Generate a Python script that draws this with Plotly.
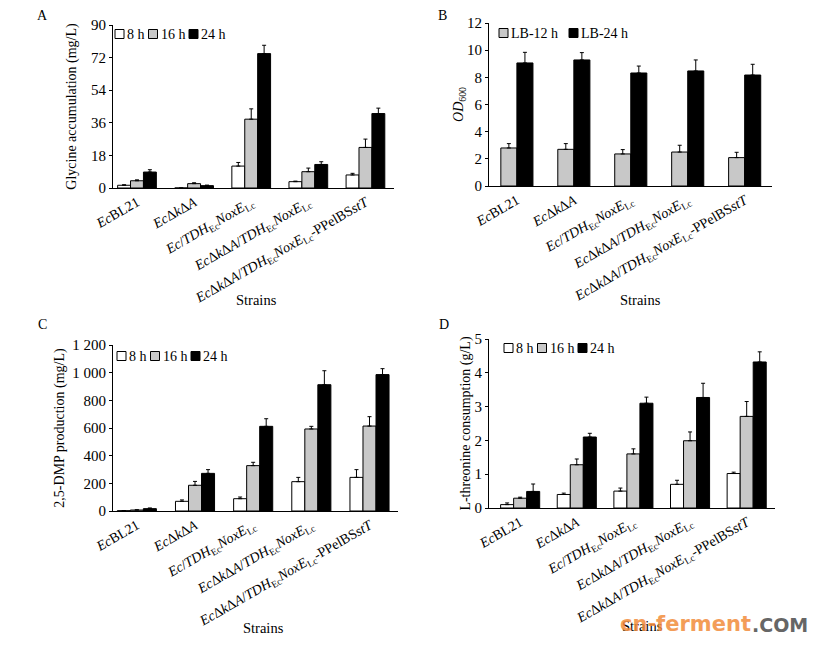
import plotly.graph_objects as go
from plotly.subplots import make_subplots

W, H = 822, 646
PAGE_PAD = 8  # the page body margin shifts the figure by this many pixels

strains = [
    "<i>Ec</i>BL21",
    "<i>Ec</i>Δ<i>k</i>Δ<i>A</i>",
    "<i>Ec</i>/<i>TDH</i><sub>Ec</sub><i>NoxE</i><sub>Lc</sub>",
    "<i>Ec</i>Δ<i>k</i>Δ<i>A</i>/<i>TDH</i><sub>Ec</sub><i>NoxE</i><sub>Lc</sub>",
    "<i>Ec</i>Δ<i>k</i>Δ<i>A</i>/<i>TDH</i><sub>Ec</sub><i>NoxE</i><sub>Lc</sub>-PPelBS<i>stT</i>",
]
time_names = ["8 h", "16 h", "24 h"]
lb_names = ["LB-12 h", "LB-24 h"]

# A: glycine accumulation (mg/L)
gly_8 = [1.5, 0.0, 12.1, 3.5, 7.2]
gly_16 = [4.0, 2.4, 38.0, 9.0, 22.4]
gly_24 = [8.8, 1.3, 74.2, 13.0, 41.1]
gly_8_err = [0.3, 0.0, 2.0, 0.3, 0.9]
gly_16_err = [0.5, 0.5, 5.7, 2.0, 4.6]
gly_24_err = [1.3, 0.3, 4.6, 1.5, 3.0]

# B: OD600
od_12 = [2.8, 2.7, 2.36, 2.5, 2.09]
od_24 = [9.06, 9.28, 8.32, 8.47, 8.17]
od_12_err = [0.32, 0.42, 0.32, 0.5, 0.39]
od_24_err = [0.78, 0.54, 0.51, 0.81, 0.79]

# C: 2,5-DMP production (mg/L)
dmp_8 = [2, 70, 89, 212, 243]
dmp_16 = [7, 186, 328, 593, 614]
dmp_24 = [17, 272, 612, 913, 986]
dmp_8_err = [1, 10, 12, 31, 56]
dmp_16_err = [2, 28, 24, 19, 68]
dmp_24_err = [5, 27, 55, 101, 43]

# D: L-threonine consumption (g/L)
thr_8 = [0.10, 0.40, 0.50, 0.70, 1.02]
thr_16 = [0.29, 1.28, 1.60, 1.99, 2.71]
thr_24 = [0.49, 2.10, 3.10, 3.27, 4.32]
thr_8_err = [0.05, 0.04, 0.09, 0.12, 0.04]
thr_16_err = [0.03, 0.17, 0.15, 0.26, 0.44]
thr_24_err = [0.22, 0.11, 0.18, 0.42, 0.30]

fills3 = ["white", "#c8c8c8", "black"]
fills2 = ["#c8c8c8", "black"]
FONT = "Liberation Serif"


def px_x(p):
    return (p - PAGE_PAD) / W


def px_y(p):
    return 1 - (p - PAGE_PAD) / H


fig = make_subplots(rows=2, cols=2)


def add_group(row, col, series, errors, names, colors, width):
    n = len(series)
    for i, (vals, errs, name, color) in enumerate(zip(series, errors, names, colors)):
        fig.add_trace(go.Bar(
            x=strains, y=vals, name=name, showlegend=False,
            width=width, offset=(i - n / 2) * width,
            marker=dict(color=color, line=dict(color="black", width=1)),
            error_y=dict(type="data", array=errs, arrayminus=[0] * len(errs),
                         symmetric=False, color="black", thickness=1, width=2),
        ), row=row, col=col)


add_group(1, 1, [gly_8, gly_16, gly_24], [gly_8_err, gly_16_err, gly_24_err],
          time_names, fills3, 0.226)
add_group(1, 2, [od_12, od_24], [od_12_err, od_24_err], lb_names, fills2, 0.282)
add_group(2, 1, [dmp_8, dmp_16, dmp_24], [dmp_8_err, dmp_16_err, dmp_24_err],
          time_names, fills3, 0.224)
add_group(2, 2, [thr_8, thr_16, thr_24], [thr_8_err, thr_16_err, thr_24_err],
          time_names, fills3, 0.23)

# panel geometry in pixels: left, right, top, bottom, x range, title standoff
panels = {
    (1, 1): (113, 394, 25, 188, [-0.42, 4.5], 11),
    (1, 2): (489, 772, 23, 186, [-0.49, 4.48], 0),
    (2, 1): (113, 398, 345, 511, [-0.41, 4.49], 4),
    (2, 2): (489, 775, 339, 508, [-0.55, 4.5], 0),
}
yaxes = {
    (1, 1): dict(range=[0, 90], tickvals=[0, 18, 36, 54, 72, 90],
                 title="Glycine accumulation (mg/L)"),
    (1, 2): dict(range=[0, 12], tickvals=[0, 2, 4, 6, 8, 10, 12],
                 title="<i>OD</i><sub>600</sub>"),
    (2, 1): dict(range=[0, 1200], tickvals=[0, 200, 400, 600, 800, 1000, 1200],
                 ticktext=["0", "200", "400", "600", "800", "1 000", "1 200"],
                 title="2,5-DMP production (mg/L)"),
    (2, 2): dict(range=[0, 5], tickvals=[0, 1, 2, 3, 4, 5],
                 title="L-threonine consumption (g/L)"),
}

for (r, c), (l, rr, t, b, xr, so) in panels.items():
    fig.update_xaxes(domain=[px_x(l), px_x(rr)], range=xr, showline=True,
                     linecolor="black", linewidth=1, ticks="", tickangle=-30,
                     showgrid=False, zeroline=False, automargin=False,
                     tickfont=dict(family=FONT, size=14, color="black"),
                     row=r, col=c)
    ya = yaxes[(r, c)]
    fig.update_yaxes(domain=[px_y(b), px_y(t)], range=ya["range"],
                     tickvals=ya["tickvals"], ticktext=ya.get("ticktext"),
                     showline=True, linecolor="black", linewidth=1,
                     ticks="outside", ticklen=3, tickcolor="black",
                     showgrid=False, zeroline=False, automargin=False,
                     tickfont=dict(family=FONT, size=15, color="black"),
                     title=dict(text=ya["title"], standoff=so,
                                font=dict(family=FONT, size=14, color="black")),
                     row=r, col=c)

annotations = []
shapes = []


def note(text, x, y, anchor="center", size=14, **kw):
    annotations.append(dict(x=px_x(x), y=px_y(y), xref="paper", yref="paper",
                            text=text, showarrow=False, xanchor=anchor, yanchor="middle",
                            font=kw.pop("font", dict(family=FONT, size=size, color="black")),
                            **kw))


# panel letters
for letter, x, y in [("A", 42, 15), ("B", 443, 15), ("C", 42, 324), ("D", 444, 324)]:
    note(letter, x, y)

# x titles
for x, y in [(256, 300), (640, 300), (263, 628), (642, 626)]:
    note("Strains", x, y, size=14.5)


def legend(x0, yc, names, colors, gap):
    # approximate Times text widths at 14px
    cw = {" ": 3.5, "h": 7, "L": 8.5, "B": 9.3, "-": 4.7}
    x = x0
    for name, color in zip(names, colors):
        shapes.append(dict(type="rect", xref="paper", yref="paper",
                           x0=px_x(x), x1=px_x(x + 9),
                           y0=px_y(yc + 4.5), y1=px_y(yc - 4.5),
                           fillcolor=color, line=dict(color="black", width=1)))
        note(name, x + 10, yc, anchor="left")
        tw = sum(cw.get(ch, 7) for ch in name)
        x += 9 + 3 + tw + gap


legend(115, 34, time_names, fills3, 4)
legend(499, 33, lb_names, fills2, 11)
legend(117, 356, time_names, fills3, 4)
legend(504, 348, time_names, fills3, 4)

# watermark
note("cn-ferment", 618, 624, anchor="left", opacity=0.85,
     font=dict(family="DejaVu Sans", size=21, color="#f28c3c", weight="bold"))
note(".COM", 810, 625, anchor="right",
     font=dict(family="DejaVu Sans", size=19, color="#666666", weight="bold"))

fig.update_layout(
    width=W, height=H,
    margin=dict(l=0, r=0, t=0, b=0),
    paper_bgcolor="white", plot_bgcolor="white",
    barmode="overlay",
    font=dict(family=FONT, color="black"),
    annotations=annotations, shapes=shapes,
)

fig.write_html("out.html")
